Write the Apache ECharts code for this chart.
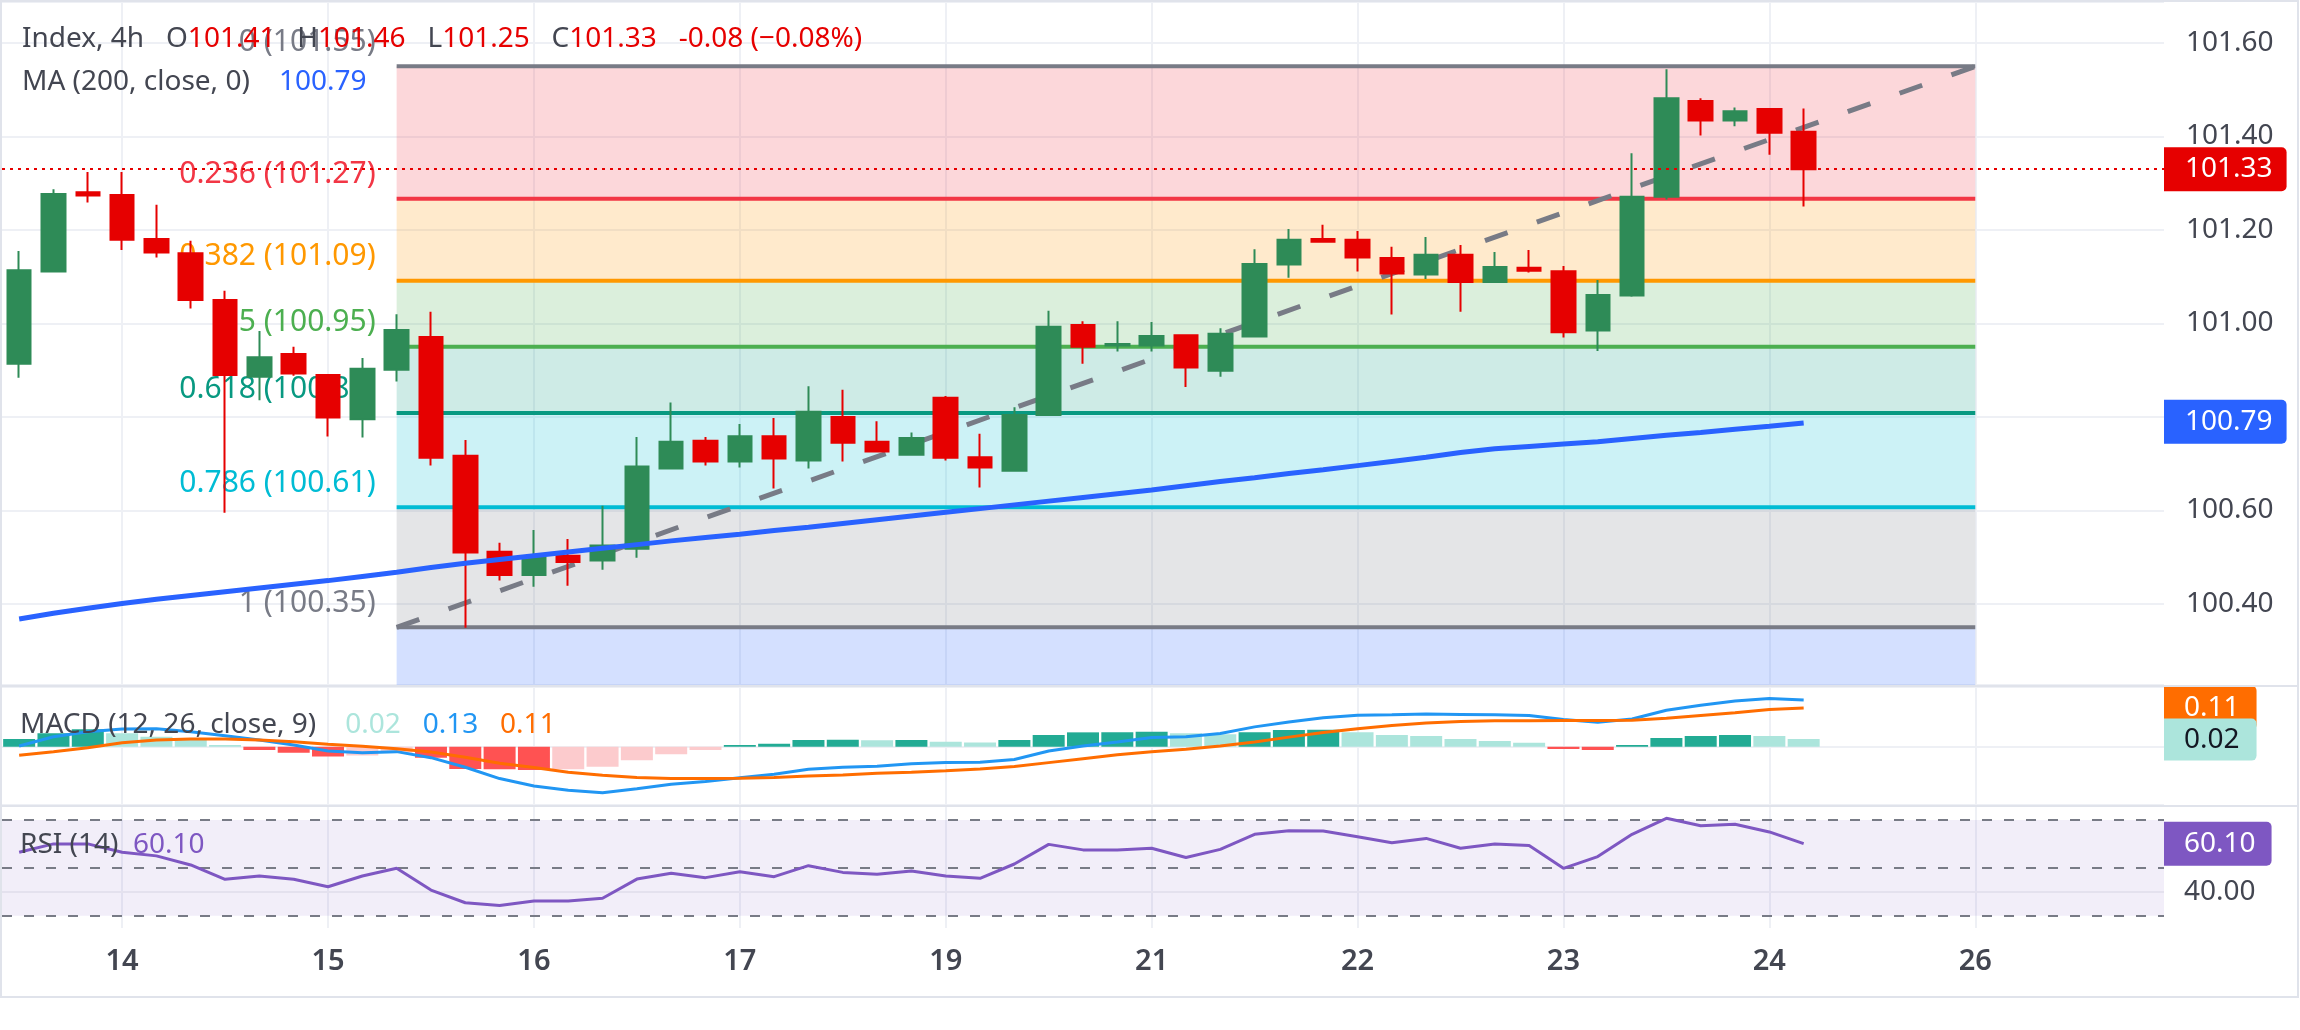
<!DOCTYPE html>
<html>
<head>
<meta charset="utf-8">
<script src="https://cdn.jsdelivr.net/npm/echarts@6/dist/echarts.min.js"></script>
<style>html,body{margin:0;padding:0;background:#ffffff}#c{width:2300px;height:1030px}</style>
</head>
<body>
<div id="c"></div>
<script>
// ---------- data ----------
const sessionDays = ['13','14','15','16','17','19','21','22','23','24','26'];
const sessionHours = ['00:00','04:00','08:00','12:00','16:00','20:00'];
const firstSlot = 3; // first visible bar is 13 12:00

const opens  = [100.914,101.111,101.281,101.275,101.181,101.150,101.050,100.886,100.935,100.890,100.795,100.901,100.971,100.717,100.512,100.462,100.503,100.493,100.518,100.690,100.749,100.705,100.759,100.707,100.800,100.747,100.719,100.841,100.714,100.685,100.804,100.997,100.953,100.953,100.975,100.899,100.972,101.126,101.181,101.179,101.140,101.105,101.147,101.089,101.119,101.112,100.985,101.060,101.271,101.476,101.434,101.459,101.41];
const highs  = [101.155,101.287,101.324,101.324,101.254,101.177,101.070,100.984,100.950,100.891,100.926,101.020,101.025,100.751,100.531,100.558,100.539,100.610,100.757,100.831,100.757,100.785,100.798,100.866,100.858,100.791,100.767,100.845,100.764,100.821,101.027,101.005,101.005,101.003,100.976,100.990,101.159,101.202,101.211,101.198,101.164,101.185,101.168,101.153,101.157,101.123,101.093,101.364,101.544,101.482,101.462,101.461,101.46];
const lows   = [100.884,101.109,101.259,101.157,101.141,101.032,100.595,100.836,100.888,100.758,100.756,100.876,100.696,100.349,100.450,100.437,100.439,100.473,100.499,100.690,100.696,100.692,100.647,100.690,100.705,100.724,100.717,100.707,100.649,100.683,100.804,100.914,100.940,100.940,100.864,100.886,100.972,101.098,101.173,101.111,101.019,101.095,101.025,101.089,101.109,100.970,100.941,101.057,101.265,101.402,101.422,101.361,101.25];
const closes = [101.114,101.277,101.274,101.179,101.152,101.050,100.890,100.928,100.893,100.799,100.903,100.986,100.713,100.510,100.462,100.499,100.490,100.525,100.694,100.747,100.705,100.759,100.711,100.811,100.745,100.726,100.755,100.713,100.692,100.804,100.993,100.950,100.956,100.973,100.906,100.978,101.127,101.179,101.175,101.141,101.107,101.147,101.089,101.121,101.113,100.981,101.061,101.271,101.482,101.434,101.454,101.408,101.33];

const ma200 = [100.368,100.380,100.391,100.401,100.410,100.418,100.426,100.434,100.442,100.450,100.459,100.468,100.478,100.487,100.495,100.503,100.511,100.519,100.527,100.535,100.542,100.549,100.557,100.564,100.572,100.580,100.588,100.596,100.604,100.612,100.620,100.628,100.636,100.644,100.653,100.662,100.670,100.679,100.687,100.696,100.705,100.714,100.724,100.732,100.737,100.742,100.747,100.754,100.761,100.767,100.774,100.780,100.787];

const macdLine = [0.002,0.028,0.042,0.050,0.051,0.042,0.031,0.019,0.005,-0.012,-0.017,-0.014,-0.031,-0.058,-0.090,-0.111,-0.123,-0.130,-0.119,-0.106,-0.098,-0.088,-0.078,-0.064,-0.058,-0.055,-0.048,-0.045,-0.044,-0.036,-0.012,0.002,0.013,0.026,0.028,0.037,0.056,0.070,0.082,0.089,0.090,0.092,0.091,0.090,0.088,0.077,0.069,0.078,0.103,0.117,0.129,0.136,0.132];
const signalLine = [-0.024,-0.014,-0.003,0.011,0.019,0.022,0.022,0.019,0.014,0.007,0.001,-0.006,-0.015,-0.030,-0.047,-0.059,-0.072,-0.081,-0.087,-0.090,-0.090,-0.089,-0.087,-0.083,-0.080,-0.075,-0.072,-0.068,-0.063,-0.056,-0.045,-0.034,-0.023,-0.014,-0.007,0.002,0.013,0.027,0.040,0.051,0.060,0.067,0.071,0.073,0.073,0.074,0.074,0.075,0.080,0.088,0.096,0.105,0.109];
const histogram = [0.022,0.038,0.049,0.038,0.028,0.022,0.005,-0.009,-0.017,-0.028,-0.025,-0.017,-0.031,-0.063,-0.064,-0.066,-0.064,-0.057,-0.038,-0.021,-0.009,0.005,0.008,0.019,0.0195,0.0185,0.0192,0.014,0.012,0.019,0.033,0.0405,0.041,0.0424,0.038,0.035,0.0405,0.047,0.048,0.0405,0.033,0.030,0.0216,0.016,0.0113,-0.0066,-0.0094,0.0047,0.0245,0.030,0.033,0.030,0.0216];

const rsi14 = [56.5,60.0,60.0,56.5,55.0,51.2,45.2,46.6,45.2,42.1,46.6,49.8,40.7,35.4,34.3,36.1,36.1,37.3,45.3,47.7,45.9,48.4,46.3,50.9,48.1,47.3,48.7,46.6,45.6,51.6,59.8,57.5,57.5,58.2,54.3,57.7,64.0,65.5,65.4,63.0,60.5,62.3,58.2,60.0,59.3,49.8,54.7,64.0,70.7,67.6,68.2,65.0,60.1];
const rsiLevels = [70, 50, 30];
const rsiScaleLabel = 40;

const fibRatios = [0, 0.236, 0.382, 0.5, 0.618, 0.786, 1, 1.618];
const fibColors = ['#787b86','#f23645','#ff9800','#4caf50','#089981','#00bcd4','#787b86','#2962ff'];
const fibHigh = 101.55, fibLow = 100.35;
const fibStartIndex = 11, fibEndIndex = 57;

// ---------- derived ----------
const categories = sessionDays.flatMap(d => sessionHours.map(h => d + ' ' + h)).slice(firstSlot);
const isDayStart = (i, v) => String(v).endsWith(' 00:00');
const last = closes.length - 1;
const fibPrice = r => fibHigh - r * (fibHigh - fibLow);

const FONT = '"Noto Sans", "Open Sans", sans-serif';
const GREY = '#434651';
const UP = '#2e8b57', DOWN = '#e60000';

const chart = echarts.init(document.getElementById('c'), null, {renderer: 'canvas'});

function xAxis(gi, showLabels) {
  return {
    type: 'category', gridIndex: gi, data: categories, boundaryGap: true,
    axisLine: {show: false}, axisTick: {show: false},
    axisLabel: {show: showLabels, interval: isDayStart, formatter: v => v.split(' ')[0],
      color: GREY, fontFamily: FONT, fontSize: 29, fontWeight: 600, margin: 19},
    splitLine: {show: true, interval: isDayStart, alignWithLabel: true, lineStyle: {color: '#eef0f5', width: 2}}
  };
}

function tag(bg, fg, padL, padR, padV) {
  return {show: true, position: 'end', distance: 0, color: fg, backgroundColor: bg,
    fontFamily: FONT, fontSize: 28, lineHeight: 28, padding: [padV, padR, padV, padL],
    borderRadius: [0, 5, 5, 0]};
}

const o = opens[last], h = highs[last], l = lows[last], c = closes[last];
const chg = c - closes[last - 1];
const pct = chg / closes[last - 1] * 100;
const SP = '   ';
const headerText = `{g|Index, 4h${SP}O}{r|${o.toFixed(2)}}${SP}{g|H}{r|${h.toFixed(2)}}${SP}{g|L}{r|${l.toFixed(2)}}${SP}{g|C}{r|${c.toFixed(2)}}${SP}{r|${chg.toFixed(2)} (\u2212${Math.abs(pct).toFixed(2)}%)}`;
const rs = fill => ({fill: fill, fontFamily: FONT, fontSize: 28});
const richBase = {
  g: rs(GREY), r: rs(DOWN), b: rs('#2962ff'), h: rs('#ace5dc'),
  m: rs('#2196f3'), s: rs('#ff6d00'), p: rs('#7e57c2')
};
function titleText(x, y, text) {
  return {type: 'text', x: x, y: y, z: 100, silent: true,
    style: {text: text, rich: richBase, verticalAlign: 'middle', fill: GREY, font: '28px ' + FONT}};
}

const option = {
  animation: false,
  backgroundColor: '#ffffff',
  grid: [
    {left: 2, right: 136, top: 2, height: 683},
    {left: 2, right: 136, top: 687, height: 118},
    {left: 2, right: 136, top: 807, height: 121}
  ],
  xAxis: [xAxis(0, false), xAxis(1, false), xAxis(2, true)],
  yAxis: [
    {type: 'value', gridIndex: 0, position: 'right', min: 100.2267, max: 101.6877, splitNumber: 7,
      axisLine: {show: false}, axisTick: {show: false},
      axisLabel: {color: GREY, fontFamily: FONT, fontSize: 28, margin: 22, showMinLabel: false, showMaxLabel: false,
        formatter: v => v.toFixed(2)},
      splitLine: {lineStyle: {color: '#eef0f5', width: 2}}},
    {type: 'value', gridIndex: 1, position: 'right', min: -0.1647, max: 0.1686, splitNumber: 1,
      axisLine: {show: false}, axisTick: {show: false}, axisLabel: {show: false},
      splitLine: {lineStyle: {color: '#eef0f5', width: 2}}},
    {type: 'value', gridIndex: 2, position: 'right', min: 24.85, max: 75.43,
      axisLine: {show: false}, axisTick: {show: false}, axisLabel: {show: false}, splitLine: {show: false}}
  ],
  series: [
    {
      type: 'custom', name: 'fib', xAxisIndex: 0, yAxisIndex: 0, z: 1, clip: true, silent: true,
      encode: {x: [0, 1], y: 2},
      data: fibRatios.map(r => [fibStartIndex, fibEndIndex, fibPrice(r)]),
      renderItem: (params, api) => {
        const k = params.dataIndex;
        const price = api.value(2);
        const p0 = api.coord([api.value(0), price]);
        const p1 = api.coord([api.value(1), price]);
        const cs = params.coordSys;
        const children = [];
        if (k > 0) {
          const q = api.coord([api.value(0), fibPrice(fibRatios[k - 1])]);
          const rect = echarts.graphic.clipRectByRect(
            {x: p0[0], y: q[1], width: p1[0] - p0[0], height: p0[1] - q[1]}, cs);
          if (rect) children.push({type: 'rect', z2: 0, shape: rect,
            style: {fill: echarts.color.modifyAlpha(fibColors[k], 0.2)}});
        }
        if (p0[1] >= cs.y && p0[1] <= cs.y + cs.height) {
          children.push({type: 'line', z2: 10,
            shape: {x1: p0[0], y1: p0[1], x2: p1[0], y2: p1[1]},
            style: {stroke: fibColors[k], lineWidth: 4}});
          children.push({type: 'text', z2: 5,
            style: {text: `${fibRatios[k]} (${price.toFixed(2)})`, x: p0[0] - 21, y: p0[1] - 24,
              align: 'right', verticalAlign: 'middle', fill: fibColors[k], font: '30px ' + FONT}});
        }
        return {type: 'group', children: children};
      }
    },
    {
      type: 'line', name: 'trend', xAxisIndex: 0, yAxisIndex: 0, z: 2, silent: true,
      data: [[fibStartIndex, fibLow], [fibEndIndex, fibHigh]],
      symbol: 'none', lineStyle: {color: '#787b86', width: 5, type: [24, 31]}
    },
    {
      type: 'candlestick', name: 'Index', xAxisIndex: 0, yAxisIndex: 0, z: 3, silent: true,
      data: opens.map((op, i) => [op, closes[i], lows[i], highs[i]]),
      barWidth: 24,
      itemStyle: {color: UP, color0: DOWN, borderColor: UP, borderColor0: DOWN, borderWidth: 2},
      markLine: {
        silent: true, symbol: ['none', 'none'], z: 6,
        data: [{yAxis: closes[last]}],
        lineStyle: {color: DOWN, type: [3, 5], width: 2},
        label: Object.assign(tag(DOWN, '#ffffff', 21, 14, 8), {formatter: () => closes[last].toFixed(2)})
      }
    },
    {
      type: 'line', name: 'MA200', xAxisIndex: 0, yAxisIndex: 0, z: 4, silent: true,
      data: ma200, symbol: 'none', lineStyle: {color: '#2962ff', width: 5},
      markLine: {
        silent: true, symbol: ['none', 'none'], z: 6,
        data: [{yAxis: ma200[last]}],
        lineStyle: {color: 'rgba(0,0,0,0)', width: 1},
        label: Object.assign(tag('#2962ff', '#ffffff', 21, 14, 8), {formatter: () => ma200[last].toFixed(2)})
      }
    },
    {
      type: 'line', name: 'MACD', xAxisIndex: 1, yAxisIndex: 1, z: 3, silent: true,
      data: macdLine, symbol: 'none', lineStyle: {color: '#2196f3', width: 3}
    },
    {
      type: 'line', name: 'Signal', xAxisIndex: 1, yAxisIndex: 1, z: 3, silent: true,
      data: signalLine, symbol: 'none', lineStyle: {color: '#ff6d00', width: 3},
      markLine: {
        silent: true, symbol: ['none', 'none'], z: 5,
        data: [{yAxis: signalLine[last]}],
        lineStyle: {color: 'rgba(0,0,0,0)', width: 1},
        label: Object.assign(tag('#ff6d00', '#ffffff', 20, 17, 8), {formatter: () => signalLine[last].toFixed(2)})
      }
    },
    {
      type: 'bar', name: 'Histogram', xAxisIndex: 1, yAxisIndex: 1, z: 2, silent: true,
      data: histogram, barWidth: 32,
      itemStyle: {color: p => {
        const v = histogram[p.dataIndex];
        const prev = p.dataIndex > 0 ? histogram[p.dataIndex - 1] : -Infinity;
        if (v >= 0) return v >= prev ? '#22ab94' : '#ace5dc';
        return v >= prev ? '#fccbcd' : '#ff5252';
      }},
      markLine: {
        silent: true, symbol: ['none', 'none'], z: 7,
        data: [{yAxis: histogram[last]}],
        lineStyle: {color: 'rgba(0,0,0,0)', width: 1},
        label: Object.assign(tag('#ace5dc', '#131722', 20, 17, 7), {formatter: () => histogram[last].toFixed(2)})
      }
    },
    {
      type: 'line', name: 'RSI', xAxisIndex: 2, yAxisIndex: 2, z: 6, silent: true,
      data: rsi14, symbol: 'none', lineStyle: {color: '#7e57c2', width: 3},
      markArea: {
        silent: true,
        itemStyle: {color: 'rgba(126,87,194,0.1)'},
        data: [[{yAxis: rsiLevels[0]}, {yAxis: rsiLevels[2]}]]
      },
      markLine: {
        silent: true, symbol: ['none', 'none'], z: 5,
        data: [
          ...rsiLevels.map(v => ({yAxis: v, label: {show: false},
            lineStyle: {color: '#787b86', type: [10, 12], width: 2}})),
          {yAxis: rsiScaleLabel, lineStyle: {color: '#e4e1ee', type: 'solid', width: 2},
            label: {show: true, position: 'end', distance: 20, color: GREY, fontFamily: FONT, fontSize: 28,
              formatter: () => rsiScaleLabel.toFixed(2)}},
          {yAxis: rsi14[last], lineStyle: {color: 'rgba(0,0,0,0)', width: 1},
            label: Object.assign(tag('#7e57c2', '#ffffff', 20, 16, 8), {formatter: () => rsi14[last].toFixed(2)})}
        ]
      }
    }
  ],
  graphic: [
    {type: 'rect', z: 90, silent: true, shape: {x: 1, y: 1, width: 2297, height: 996},
      style: {fill: 'none', stroke: '#e0e3eb', lineWidth: 2}},
    {type: 'rect', z: 90, silent: true, shape: {x: 0, y: 685, width: 2299, height: 2}, style: {fill: '#e0e3eb'}},
    {type: 'rect', z: 90, silent: true, shape: {x: 0, y: 805, width: 2299, height: 2}, style: {fill: '#e0e3eb'}},
    titleText(22, 39, headerText),
    titleText(22, 82, `{g|MA (200, close, 0)}    {b|${ma200[last].toFixed(2)}}`),
    titleText(20, 725, `{g|MACD (12, 26, close, 9)}    {h|${histogram[last].toFixed(2)}}   {m|${macdLine[last].toFixed(2)}}   {s|${signalLine[last].toFixed(2)}}`),
    titleText(20, 845, `{g|RSI (14)}  {p|${rsi14[last].toFixed(2)}}`)
  ]
};
chart.setOption(option);
</script>
</body>
</html>
